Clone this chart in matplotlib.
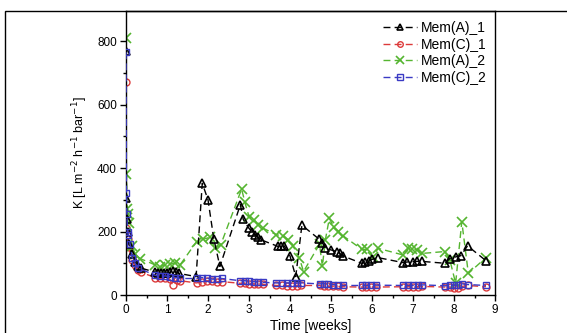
import matplotlib
matplotlib.use("Agg")
import matplotlib.pyplot as plt
from matplotlib.patches import Rectangle
from matplotlib.ticker import MultipleLocator

plt.rcParams['font.family'] = ['Liberation Sans', 'DejaVu Sans']

# ---- data ----
a1_t = [0, 0.01, 0.02, 0.04, 0.07, 0.14, 0.21, 0.29, 0.36,
        0.71, 0.79, 0.86, 0.93, 1.0, 1.07, 1.14, 1.21, 1.29,
        1.71, 1.86, 2.0, 2.14, 2.29,
        2.79, 2.86, 3.0, 3.07, 3.14, 3.21, 3.29,
        3.71, 3.79, 3.86, 4.0, 4.14, 4.29,
        4.71, 4.79, 4.86, 5.0, 5.14, 5.21, 5.29,
        5.75, 5.83, 5.93, 6.0, 6.14,
        6.76, 6.86, 7.0, 7.1, 7.21,
        7.78, 7.9, 8.04, 8.17, 8.33,
        8.78]
a1_k = [770, 305, 240, 200, 160, 130, 105, 92, 85,
        72, 68, 70, 69, 68, 72, 77, 74, 68,
        58, 352, 300, 178, 90,
        285, 238, 210, 200, 190, 182, 174,
        153, 153, 155, 123, 58, 220,
        176, 165, 147, 142, 137, 131, 123,
        100, 105, 108, 112, 118,
        102, 104, 105, 106, 106,
        100, 115, 120, 124, 155,
        108]

c1_t = [0, 0.01, 0.02, 0.04, 0.07, 0.14, 0.21, 0.29, 0.36,
        0.71, 0.83, 0.95, 1.07, 1.14, 1.24, 1.32,
        1.72, 1.85, 1.97, 2.1, 2.22, 2.34,
        2.78, 2.9, 3.0, 3.12, 3.23, 3.33,
        3.67, 3.8, 3.92, 4.04, 4.16, 4.28,
        4.72, 4.82, 4.93, 5.05, 5.16, 5.3,
        5.75, 5.86, 5.98, 6.1,
        6.76, 6.88, 7.0, 7.12, 7.23,
        7.78, 7.9, 8.0, 8.1, 8.2, 8.33,
        8.78]
c1_k = [670, 210, 190, 175, 150, 110, 95, 80, 72,
        55, 52, 52, 50, 30, 48, 45,
        38, 42, 45, 44, 42, 42,
        37, 37, 36, 35, 34, 34,
        30, 30, 29, 29, 29, 30,
        30, 28, 27, 28, 27, 26,
        25, 25, 25, 25,
        26, 26, 26, 26, 27,
        25, 25, 22, 22, 27, 30,
        26]

a2_t = [0, 0.01, 0.03, 0.05, 0.08, 0.15, 0.22, 0.34,
        0.71, 0.83, 0.95, 1.07, 1.2, 1.32,
        1.72, 1.89, 2.05, 2.17, 2.31,
        2.82, 2.9, 3.0, 3.12, 3.23, 3.35,
        3.67, 3.82, 3.96, 4.08, 4.23, 4.33,
        4.72, 4.79, 4.86, 4.96, 5.07, 5.18, 5.3,
        5.75, 5.88, 6.02, 6.15,
        6.76, 6.88, 6.98, 7.1, 7.22,
        7.78, 7.9, 8.04, 8.19, 8.35,
        8.78]
a2_k = [810, 380, 270, 255, 228, 155, 130, 115,
        95, 89, 95, 98, 100, 95,
        168, 176, 182, 147, 158,
        334, 292, 247, 237, 221, 210,
        190, 186, 174, 153, 116, 74,
        160, 90, 172, 242, 213, 200, 186,
        144, 144, 121, 147,
        126, 147, 144, 142, 131,
        137, 110, 37, 231, 68,
        118]

c2_t = [0, 0.01, 0.02, 0.04, 0.06, 0.1, 0.15, 0.22, 0.3,
        0.71, 0.83, 0.95, 1.07, 1.2, 1.32,
        1.72, 1.85, 1.97, 2.1, 2.22, 2.34,
        2.78, 2.9, 3.0, 3.12, 3.23, 3.33,
        3.67, 3.8, 3.92, 4.04, 4.16, 4.28,
        4.72, 4.82, 4.93, 5.05, 5.16, 5.3,
        5.75, 5.86, 5.98, 6.1,
        6.76, 6.88, 7.0, 7.12, 7.23,
        7.78, 7.9, 8.0, 8.1, 8.2, 8.33,
        8.78]
c2_k = [765, 320, 255, 200, 190, 160, 118, 100, 85,
        62, 60, 60, 58, 55, 52,
        52, 55, 53, 50, 50, 52,
        45, 45, 43, 42, 42, 40,
        38, 38, 38, 38, 38, 38,
        35, 36, 34, 33, 31, 30,
        30, 30, 31, 31,
        30, 30, 30, 30, 32,
        29, 30, 31, 32, 35, 33,
        30]

labels = ["Mem(A)_1", "Mem(C)_1", "Mem(A)_2", "Mem(C)_2"]

# ---- figure ----
fig = plt.figure(figsize=(5.67, 3.33), dpi=100)
ax = fig.add_axes([126/567, 1-295/333, (495-126)/567, (295-11)/333])

fig.patches.append(Rectangle((5/567, -0.2), 2.0, 1.2 - 11/333, transform=fig.transFigure,
                             fill=False, edgecolor='black', linewidth=1.0))

dash = (5, 3)
ax.plot(a1_t, a1_k, linestyle='--', dashes=dash, color='black', lw=1.0, marker='^',
        ms=5.5, mfc='none', mec='black', mew=1.2, label=labels[0], zorder=3)
ax.plot(c1_t, c1_k, linestyle='--', dashes=dash, color='#dc3a3a', lw=1.0, marker='o',
        ms=5, mfc='none', mec='#dc3a3a', mew=1.0, label=labels[1], zorder=2)
ax.plot(a2_t, a2_k, linestyle='--', dashes=dash, color='#55b530', lw=1.0, marker='x',
        ms=7, mec='#55b530', mew=1.2, label=labels[2], zorder=2)
ax.plot(c2_t, c2_k, linestyle='--', dashes=dash, color='#3a3ac4', lw=1.0, marker='s',
        ms=5, mfc='none', mec='#3a3ac4', mew=1.0, label=labels[3], zorder=4)

ax.set_xlim(0, 9)
ax.set_ylim(0, 895)
ax.xaxis.set_major_locator(MultipleLocator(1))
ax.xaxis.set_minor_locator(MultipleLocator(0.5))
ax.yaxis.set_major_locator(MultipleLocator(200))
ax.yaxis.set_minor_locator(MultipleLocator(100))
ax.tick_params(which='both', direction='out', top=False, right=False, labelsize=8.5, width=1)
ax.tick_params(which='major', length=4, pad=2.5)
ax.tick_params(which='minor', length=2.5)
for s in ax.spines.values():
    s.set_linewidth(1.0)

ax.set_xlabel("Time [weeks]", fontsize=10, labelpad=2)
ax.set_ylabel(r"K [L m$^{-2}$ h$^{-1}$ bar$^{-1}$]", fontsize=9, labelpad=5)

leg = ax.legend(loc='upper right', frameon=False, fontsize=10, handlelength=2.4,
                handletextpad=0.3, labelspacing=0.2, borderaxespad=0.2,
                markerscale=0.8, bbox_to_anchor=(1.0, 0.995))

fig.savefig("out.png", dpi=100)
